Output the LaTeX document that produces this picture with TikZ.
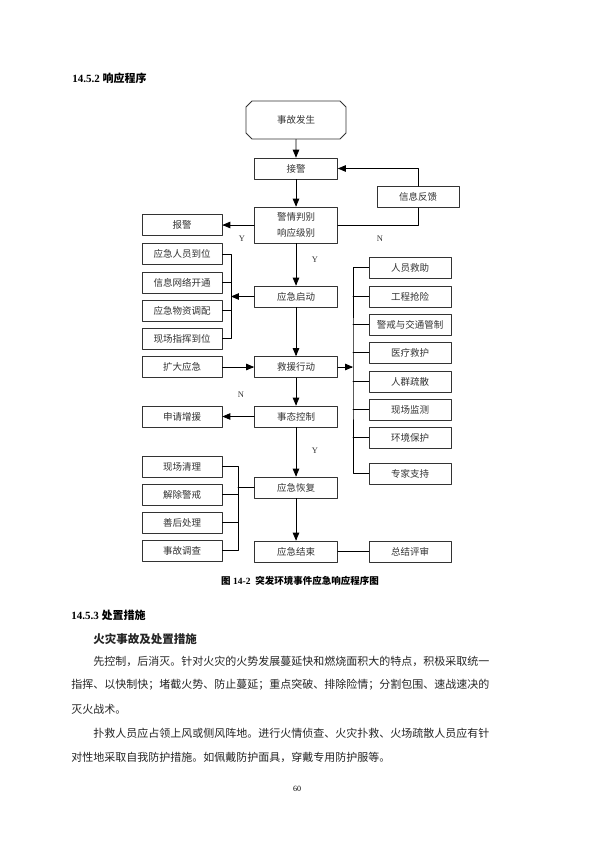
\documentclass[tikz,border=0pt]{standalone}
\usepackage{fontspec}
\setmainfont{Liberation Serif}
\newfontfamily\cjk{Noto Sans CJK SC}
\usepackage{tikz}
\usetikzlibrary{arrows}
\usetikzlibrary{shapes.misc}
\XeTeXlinebreaklocale "zh"
\XeTeXlinebreakskip=0pt plus 1pt

\begin{document}
\begin{tikzpicture}[line cap=round,line join=round,>=triangle 45,x=1pt,y=-1pt, line width=0.8pt,
    box/.style={draw=black!80, inner sep=0pt, text=black!80, font=\cjk\fontsize{9.5}{16}\selectfont},
    mid/.style={box, minimum width=83pt, minimum height=21pt},
    lft/.style={box, minimum width=80pt, minimum height=21pt},
    rgt/.style={box, minimum width=82pt, minimum height=21pt},
    yn/.style={font=\fontsize{8.5}{9}\selectfont, text=black!80},
    txt/.style={anchor=west, inner sep=0pt, text=black!85, font=\cjk\fontsize{11}{13}\selectfont},
    fullln/.style={txt, text width=#1, align=justify}]
                        \fill[white] (0,0) rectangle (600,848);
                        \useasboundingbox (0,0) rectangle (600,848);

                        % headings
                        \node[anchor=west, inner sep=0pt, font=\bfseries\fontsize{11}{13}\selectfont] (h1) at (72,78) {14.5.2 {\cjk 响应程序}};

                        % main column
                        \node[box, chamfered rectangle, chamfered rectangle xsep=3pt, chamfered rectangle ysep=3pt, minimum width=100pt, minimum height=38pt] (start) at (296,120) {事故发生};
                        \node[mid] (alarm) at (296,168.5) {接警};
                        \node[mid, minimum height=36pt, align=center] (judge) at (296,225) {警情判别\\响应级别};
                        \node[mid] (launch) at (296,296.5) {应急启动};
                        \node[mid] (act) at (296,367) {救援行动};
                        \node[mid] (control) at (296,416.5) {事态控制};
                        \node[mid] (recover) at (296,487.5) {应急恢复};
                        \node[mid] (finish) at (296,551.5) {应急结束};

                        % left column
                        \node[lft] (report) at (182,225) {报警};
                        \node[lft] (staff) at (182,254) {应急人员到位};
                        \node[lft] (network) at (182,282.5) {信息网络开通};
                        \node[lft] (supply) at (182,310.5) {应急物资调配};
                        \node[lft] (command) at (182,338.5) {现场指挥到位};
                        \node[lft] (expand) at (182,367) {扩大应急};
                        \node[lft] (reinforce) at (182,416.5) {申请增援};
                        \node[lft] (clean) at (182,466.5) {现场清理};
                        \node[lft] (lift) at (182,494.5) {解除警戒};
                        \node[lft] (after) at (182,522.5) {善后处理};
                        \node[lft] (survey) at (182,550.5) {事故调查};

                        % right column
                        \node[rgt] (feedback) at (418,197) {信息反馈};
                        \node[rgt] (rescue) at (410,267.5) {人员救助};
                        \node[rgt] (repair) at (410,296.5) {工程抢险};
                        \node[rgt] (traffic) at (410,324.5) {警戒与交通管制};
                        \node[rgt] (medic) at (410,352.5) {医疗救护};
                        \node[rgt] (evac) at (410,381.5) {人群疏散};
                        \node[rgt] (monitor) at (410,409.5) {现场监测};
                        \node[rgt] (protect) at (410,437.5) {环境保护};
                        \node[rgt] (expert) at (410,473.5) {专家支持};
                        \node[rgt] (summary) at (410,551.5) {总结评审};

                        \coordinate (lb) at (231,296.5);
                        \coordinate (bus) at (353,367);
                        \coordinate (cb) at (238,487.5);

                        % main flow
                        \draw [->] (start) -- (alarm);
                        \draw [->] (alarm) -- (judge);
                        \draw [->] (judge) -- (launch);
                        \draw [->] (launch) -- (act);
                        \draw [->] (act) -- (control);
                        \draw [->] (control) -- (recover);
                        \draw [->] (recover) -- (finish);

                        % branches
                        \draw [->] (judge.west) -- (report.east);
                        \draw (judge.east) -| (feedback.south);
                        \draw [->] (feedback.north) |- (alarm.east);
                        \draw (staff.east) -- (staff.east -| lb) -- (command.east -| lb) -- (command.east);
                        \draw (network.east) -- (network.east -| lb);
                        \draw (supply.east) -- (supply.east -| lb);
                        \draw [->] (launch.west) -- (lb);
                        \draw [->] (expand.east) -- (act.west);
                        \draw [->] (act.east) -- (bus);
                        \draw (rescue.west) -| (bus) |- (expert.west);
                        \draw (repair.west) -- (repair.west -| bus);
                        \draw (traffic.west) -- (traffic.west -| bus);
                        \draw (medic.west) -- (medic.west -| bus);
                        \draw (evac.west) -- (evac.west -| bus);
                        \draw (monitor.west) -- (monitor.west -| bus);
                        \draw (protect.west) -- (protect.west -| bus);
                        \draw [->] (control.west) -- (reinforce.east);
                        \draw (clean.east) -- (clean.east -| cb) -- (survey.east -| cb) -- (survey.east);
                        \draw (lift.east) -- (lift.east -| cb);
                        \draw (after.east) -- (after.east -| cb);
                        \draw (recover.west) -- (cb);
                        \draw (finish.east) -- (summary.west);

                        \node[yn] (y1) at (242,239) {Y};
                        \node[yn] (n1) at (380,239) {N};
                        \node[yn] (y2) at (315,260) {Y};
                        \node[yn] (n2) at (241,395) {N};
                        \node[yn] (y3) at (315,451) {Y};

                        \node[font=\bfseries\fontsize{9.5}{11}\selectfont] (cap) at (300,581) {{\cjk 图} 14-2\ \ {\cjk 突发环境事件应急响应程序图}};

                        % body text
                        \node[anchor=west, inner sep=0pt, font=\bfseries\fontsize{11}{13}\selectfont] (h2) at (71,615) {14.5.3 {\cjk 处置措施}};
                        \node[txt, font=\cjk\bfseries\fontsize{11.5}{13}\selectfont] (h3) at (93,639) {火灾事故及处置措施};
                        \node[fullln=402pt] (p1) at (93,661) {\noindent\parfillskip=0pt 先控制，后消灭。针对火灾的火势发展蔓延快和燃烧面积大的特点，积极采取统一};
                        \node[fullln=424pt] (p2) at (71,685) {\noindent\parfillskip=0pt 指挥、以快制快；堵截火势、防止蔓延；重点突破、排除险情；分割包围、速战速决的};
                        \node[txt] (p3) at (71,709) {灭火战术。};
                        \node[fullln=402pt] (p4) at (93,733) {\noindent\parfillskip=0pt 扑救人员应占领上风或侧风阵地。进行火情侦查、火灾扑救、火场疏散人员应有针};
                        \node[txt] (p5) at (71,757) {对性地采取自我防护措施。如佩戴防护面具，穿戴专用防护服等。};
                        \node[font=\fontsize{8}{9}\selectfont] (page) at (297,789) {60};
\end{tikzpicture}
\end{document}
